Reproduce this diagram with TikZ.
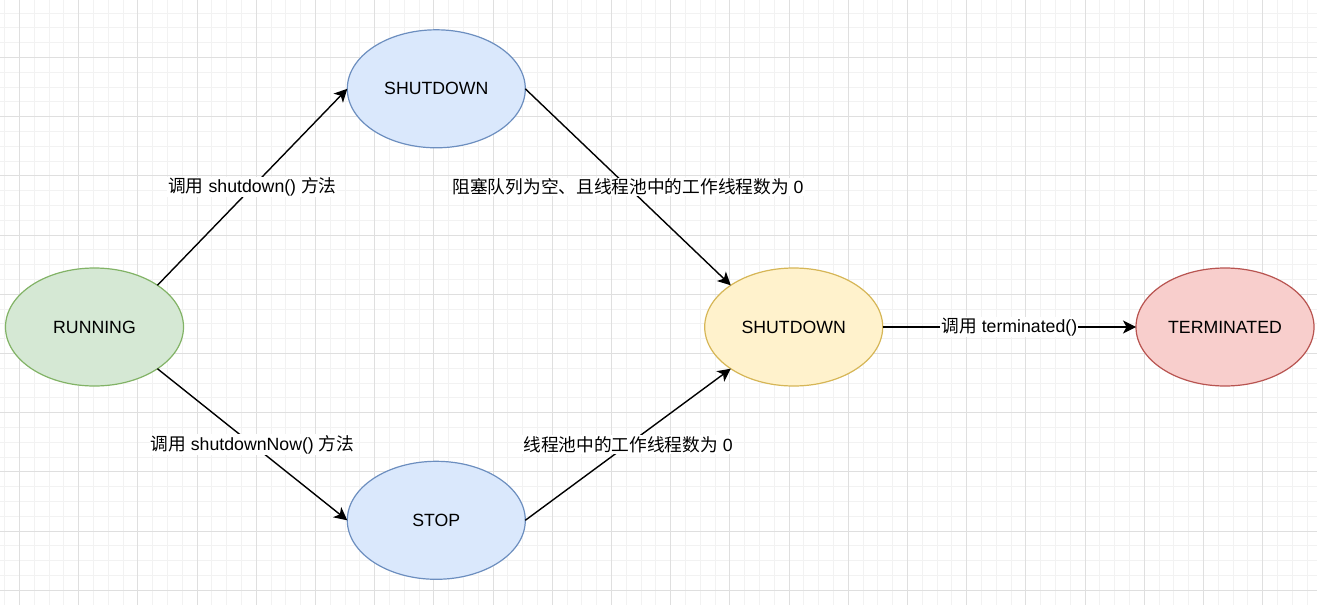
\documentclass[tikz,border=0pt]{standalone}
\usepackage{fontspec}
\setmainfont{Liberation Sans}
\newfontfamily\cjk{Noto Sans CJK SC}
\usepackage{xcolor}
\usetikzlibrary{shapes.geometric}
\usetikzlibrary{arrows.meta}

\definecolor{runfill}{HTML}{D5E8D4}
\definecolor{runline}{HTML}{82B366}
\definecolor{sdfill}{HTML}{DAE8FC}
\definecolor{sdline}{HTML}{6C8EBF}
\definecolor{tidyfill}{HTML}{FFF2CC}
\definecolor{tidyline}{HTML}{D6B656}
\definecolor{termfill}{HTML}{F8CECC}
\definecolor{termline}{HTML}{B85450}

\begin{document}
\begin{tikzpicture}[x=1pt, y=-1pt,
  state/.style={ellipse, draw, line width=1.2pt, minimum width=178pt,
    minimum height=118pt, inner sep=0pt, outer sep=0pt,
    font={\fontsize{17.7}{21}\selectfont}},
  edge/.style={-{Stealth[length=13pt,width=13pt,inset=3.5pt]}, line width=1.4pt},
  edgelabel/.style={fill=white, inner sep=1pt,
    font={\fontsize{17.7}{21}\selectfont}}]
\useasboundingbox (0,0) rectangle (1317,605);
\fill[white] (0,0) rectangle (1317,605);
\foreach \x in {4.7,19.5,...,1317}
  \draw[gray!10, line width=1pt] (\x,0) -- (\x,605);
\foreach \y in {-1.7,13.1,...,605}
  \draw[gray!10, line width=1pt] (0,\y) -- (1317,\y);
\foreach \x in {19.5,78.7,...,1317}
  \draw[gray!25, line width=1pt] (\x,0) -- (\x,605);
\foreach \y in {-1.7,57.5,...,605}
  \draw[gray!25, line width=1pt] (0,\y) -- (1317,\y);

\node [state, fill=runfill, draw=runline] (running) at (94.5,327) {RUNNING};
\node [state, fill=sdfill, draw=sdline] (shutdown) at (436.3,88.8) {SHUTDOWN};
\node [state, fill=sdfill, draw=sdline] (stop) at (436.3,520.3) {STOP};
\node [state, fill=tidyfill, draw=tidyline] (tidying) at (793.7,327) {SHUTDOWN};
\node [state, fill=termfill, draw=termline] (terminated) at (1225,327) {TERMINATED};

\draw [edge] (running.north east) -- node [edgelabel] (toshutdown)
       {{\cjk 调用} shutdown() {\cjk 方法}} (shutdown.west);
\draw [edge] (running.south east) -- node [edgelabel] (tostop)
       {{\cjk 调用} shutdownNow() {\cjk 方法}} (stop.west);
\draw [edge] (shutdown.east) -- node [edgelabel] (emptyqueue)
       {{\cjk 阻塞队列为空、且线程池中的工作线程数为} 0} (tidying.north west);
\draw [edge] (stop.east) -- node [edgelabel] (noworkers)
       {{\cjk 线程池中的工作线程数为} 0} (tidying.south west);
\draw [edge] (tidying.east) -- node [edgelabel] (toterminated)
       {{\cjk 调用} terminated()} (terminated.west);
\end{tikzpicture}
\end{document}
